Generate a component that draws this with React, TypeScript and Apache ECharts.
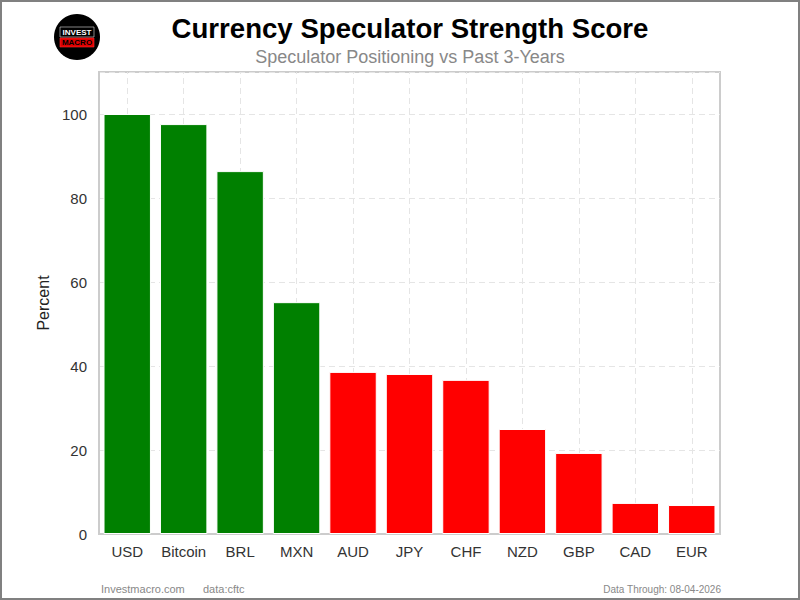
import React, { useEffect, useRef } from "react";
import * as echarts from "echarts";

const categories = ["USD", "Bitcoin", "BRL", "MXN", "AUD", "JPY", "CHF", "NZD", "GBP", "CAD", "EUR"];
const scores = [100, 97.6, 86.4, 55.2, 38.6, 38.1, 36.7, 25.0, 19.3, 7.4, 6.9];
const barColors = ["#008000", "#008000", "#008000", "#008000", "#ff0000", "#ff0000", "#ff0000", "#ff0000", "#ff0000", "#ff0000", "#ff0000"];
const titleText = "Currency Speculator Strength Score";
const subtitleText = "Speculator Positioning vs Past 3-Years";
const footerLeft = "Investmacro.com";
const footerSource = "data:cftc";
const footerRight = "Data Through: 08-04-2026";

const FONT = "'Liberation Sans', Arial, sans-serif";
const GRID_LINE = { color: "#e5e5e5", type: [6, 4] as number[], width: 1 };

export default function App() {
  const ref = useRef<HTMLDivElement>(null);
  useEffect(() => {
    document.body.style.margin = "0";
    const chart = echarts.init(ref.current!, null, { renderer: "svg" });
    chart.setOption({
      animation: false,
      backgroundColor: "#ffffff",
      textStyle: { fontFamily: FONT },
      grid: {
        left: 99,
        right: 80,
        top: 72,
        bottom: 66,
        show: true,
        borderColor: "#cccccc",
        borderWidth: 2,
        backgroundColor: "transparent",
      },
      xAxis: {
        type: "category",
        data: categories,
        axisLine: { show: true, lineStyle: { color: "#cccccc", width: 2 } },
        axisTick: { show: false },
        axisLabel: { color: "#333333", fontSize: 15, margin: 10, fontFamily: FONT, interval: 0 },
        splitLine: { show: false },
      },
      yAxis: {
        type: "value",
        min: 0,
        max: 110,
        interval: 20,
        name: "Percent",
        nameLocation: "middle",
        nameGap: 45,
        nameTextStyle: { color: "#222222", fontSize: 16, fontFamily: FONT },
        axisLine: { show: true, lineStyle: { color: "#cccccc", width: 2 } },
        axisTick: { show: false },
        axisLabel: {
          color: "#333333",
          fontSize: 15,
          margin: 12,
          fontFamily: FONT,
          formatter: (v: number) => (v > 100 ? "" : String(v)),
        },
        splitLine: { show: true, lineStyle: GRID_LINE },
      },
      series: [
        {
          type: "line",
          data: [],
          z: 0,
          silent: true,
          markLine: {
            z: 0,
            silent: true,
            symbol: ["none", "none"],
            label: { show: false },
            emphasis: { disabled: true },
            lineStyle: GRID_LINE,
            data: categories.map((c) => ({ xAxis: c })),
          },
        },
        {
          type: "bar",
          z: 3,
          barWidth: "84%",
          data: scores.map((v, i) => ({
            value: v,
            itemStyle: { color: barColors[i], borderColor: "#ffffff", borderWidth: 1 },
          })),
        },
      ],
      graphic: [
        {
          type: "rect",
          shape: { x: 1, y: 1, width: 798, height: 598 },
          style: { fill: "none", stroke: "#808080", lineWidth: 2 },
          silent: true,
          z: 100,
        },
        {
          type: "text",
          x: 410,
          y: 28,
          style: {
            text: titleText,
            fontSize: 27.6,
            fontWeight: "bold",
            fill: "#000000",
            fontFamily: FONT,
            align: "center",
            verticalAlign: "middle",
          },
        },
        {
          type: "text",
          x: 410,
          y: 57,
          style: {
            text: subtitleText,
            fontSize: 18,
            fill: "#888888",
            fontFamily: FONT,
            align: "center",
            verticalAlign: "middle",
          },
        },
        {
          type: "group",
          x: 77,
          y: 37,
          children: [
            { type: "circle", shape: { cx: 0, cy: 0, r: 23 }, style: { fill: "#000000" } },
            {
              type: "rect",
              shape: { x: -17, y: -10, width: 34, height: 10 },
              style: { fill: "#000000", stroke: "#dddddd", lineWidth: 0.6 },
            },
            {
              type: "text",
              x: 0,
              y: -4.8,
              style: {
                text: "INVEST",
                fontSize: 8,
                fontWeight: "bold",
                fill: "#ffffff",
                fontFamily: FONT,
                align: "center",
                verticalAlign: "middle",
              },
            },
            {
              type: "rect",
              shape: { x: -17, y: 1, width: 34, height: 9 },
              style: { fill: "#e00000", stroke: "#ff3030", lineWidth: 0.6 },
            },
            {
              type: "text",
              x: 0,
              y: 5.7,
              style: {
                text: "MACRO",
                fontSize: 8,
                fontWeight: "bold",
                fill: "#000000",
                fontFamily: FONT,
                align: "center",
                verticalAlign: "middle",
              },
            },
          ],
        },
        {
          type: "text",
          x: 101,
          y: 589,
          style: { text: footerLeft, fontSize: 11, fill: "#888888", fontFamily: FONT, verticalAlign: "middle" },
        },
        {
          type: "text",
          x: 203,
          y: 589,
          style: { text: footerSource, fontSize: 11, fill: "#888888", fontFamily: FONT, verticalAlign: "middle" },
        },
        {
          type: "text",
          x: 721,
          y: 589,
          style: {
            text: footerRight,
            fontSize: 10,
            fill: "#888888",
            fontFamily: FONT,
            align: "right",
            verticalAlign: "middle",
          },
        },
      ],
    });
    return () => chart.dispose();
  }, []);
  return <div ref={ref} style={{ width: 800, height: 600 }} />;
}
